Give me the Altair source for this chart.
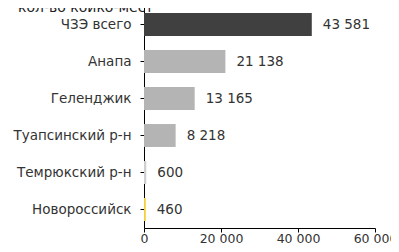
import altair as alt
import pandas as pd

categories = ["ЧЗЭ всего", "Анапа", "Геленджик", "Туапсинский р-н", "Темрюкский р-н", "Новороссийск"]
values = [43581, 21138, 13165, 8218, 600, 460]
labels = ["43 581", "21 138", "13 165", "8 218", "600", "460"]
colors = ["#404040", "#b4b4b4", "#b4b4b4", "#b4b4b4", "#d0d0d0", "#f5cf3a"]
x_ticks = [0, 20000, 40000, 60000]
title_text = "кол-во койко-мест"

FONT = "DejaVu Sans"

df = pd.DataFrame({"cat": categories, "val": values, "lab": labels, "col": colors})

y = alt.Y("cat:N", sort=categories, title=None,
          scale=alt.Scale(paddingInner=0.38, paddingOuter=0.19),
          axis=alt.Axis(domainColor="#000", tickColor="#000", tickSize=4,
                        labelPadding=9, labelFontSize=13.5, labelColor="#333",
                        labelFont=FONT))
x = alt.X("val:Q", title=None,
          scale=alt.Scale(domain=[0, 60000], nice=False),
          axis=alt.Axis(values=x_ticks, grid=False, domainColor="#000", tickColor="#000",
                        tickSize=4, labelFontSize=12.5, labelColor="#333",
                        labelFont=FONT, labelPadding=0, labelFlush=False,
                        labelExpr="replace(format(datum.value, ',d'), ',', ' ')"))

bars = alt.Chart(df).mark_bar().encode(
    x=x, y=y, color=alt.Color("col:N", scale=None)
)
text = alt.Chart(df).mark_text(align="left", dx=11, fontSize=13.5, color="#333",
                               font=FONT).encode(
    x="val:Q", y=alt.Y("cat:N", sort=categories), text="lab:N"
)
title = alt.Chart(pd.DataFrame({"t": [title_text]})).mark_text(
    align="left", baseline="alphabetic", fontSize=14, font=FONT, color="#222"
).encode(x=alt.value(-126), y=alt.value(6), text="t:N")

chart = (bars + text + title).properties(
    width=231, height=222,
    autosize=alt.AutoSizeParams(type="none"),
    padding={"left": 136, "top": -2, "right": 16, "bottom": 16},
).configure_view(stroke=None)

chart.save("out.html", embed_options={"renderer": "svg", "actions": False})
